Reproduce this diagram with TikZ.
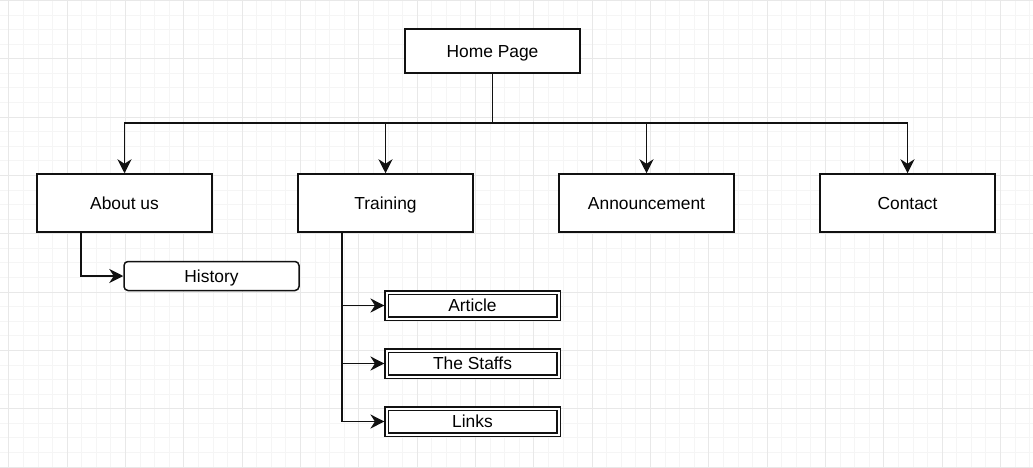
\documentclass[tikz,border=0pt]{standalone}
\usepackage{fontspec}
\setmainfont{Liberation Sans}
\usetikzlibrary{arrows.meta}
\definecolor{gridminor}{HTML}{F5F5F5}
\definecolor{gridmajor}{HTML}{E8E8E8}
\definecolor{ink}{HTML}{111111}
\tikzset{
  box/.style={draw=ink, line width=1.5pt, fill=white, minimum width=175pt, inner sep=0pt,
    font=\fontsize{17.4}{19}\selectfont, text height=12.4pt, text depth=0pt},
  topbox/.style={box, minimum height=58pt},
  homebox/.style={box, minimum height=44pt},
  roundbox/.style={box, rounded corners=4pt, minimum height=29pt},
  dblbox/.style={box, draw=ink, line width=1.1pt, double=white, double distance=2pt, minimum width=172pt, minimum height=26pt},
  conn/.style={draw=ink, line width=1.5pt},
  arr/.style={conn, -{Stealth[length=14pt, width=14pt, inset=4.5pt]}},
}
\begin{document}
\begin{tikzpicture}[x=1pt, y=-1pt]
  \useasboundingbox (0,0) rectangle (1033,468);
  % background grid
  \fill[white] (0,0) rectangle (1033,468);
  \foreach \i in {0,...,71} {
    \draw[gridminor, line width=0.7pt] ({8.7+14.583*\i},0) -- ({8.7+14.583*\i},468);
  }
  \foreach \i in {0,...,32} {
    \draw[gridminor, line width=0.7pt] (0,{0.3+14.583*\i}) -- (1033,{0.3+14.583*\i});
  }
  \foreach \i in {0,...,17} {
    \draw[gridmajor, line width=0.8pt] ({8.7+58.333*\i},0) -- ({8.7+58.333*\i},468);
  }
  \foreach \i in {0,...,8} {
    \draw[gridmajor, line width=0.8pt] (0,{0.3+58.333*\i}) -- (1033,{0.3+58.333*\i});
  }

  % nodes
  \node[homebox] (home) at (492.5,51) {Home Page};
  \node[topbox] (about) at (124.5,203) {About us};
  \node[topbox] (training) at (385.5,203) {Training};
  \node[topbox] (announce) at (646.5,203) {Announcement};
  \node[topbox] (contact) at (907.5,203) {Contact};
  \node[roundbox] (history) at (211.5,276) {History};
  \node[dblbox] (article) at (472.5,305.5) {Article};
  \node[dblbox] (staffs) at (472.5,363.5) {The Staffs};
  \node[dblbox] (links) at (472.5,421.5) {Links};

  % top level tree
  \coordinate (bus) at (492.5,123);
  \draw[conn] (home.south) -- (bus);
  \draw[arr] (bus) -| (about.north);
  \draw[arr] (bus) -| (training.north);
  \draw[arr] (bus) -| (announce.north);
  \draw[arr] (bus) -| (contact.north);

  % sub pages
  \coordinate (aboutout) at (81,232);
  \draw[arr] (aboutout) |- (history.west);
  \coordinate (trainout) at (342,232);
  \draw[conn] (trainout) -- (342,421.5);
  \draw[arr] (342,305.5) -- ([xshift=-1.5pt]article.west);
  \draw[arr] (342,363.5) -- ([xshift=-1.5pt]staffs.west);
  \draw[arr] (342,421.5) -- ([xshift=-1.5pt]links.west);
\end{tikzpicture}
\end{document}
